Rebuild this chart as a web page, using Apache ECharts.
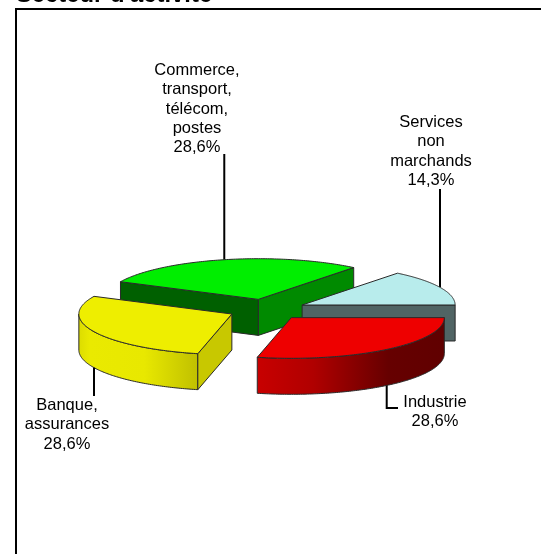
<!DOCTYPE html>
<html>
<head>
<meta charset="utf-8">
<style>html,body{margin:0;padding:0;background:#fff}#c{width:541px;height:554px}</style>
<script src="https://cdn.jsdelivr.net/npm/echarts@6/dist/echarts.min.js"></script>
</head>
<body>
<div id="c"></div>
<script>
var titleText = "Secteur d'activité";
var categories = ['Services\nnon\nmarchands', 'Commerce,\ntransport,\ntélécom,\npostes', 'Banque,\nassurances', 'Industrie'];
var shares = [14.3, 28.6, 28.6, 28.6];
var percentLabels = ['14,3%', '28,6%', '28,6%', '28,6%'];

// view of the exploded pie
var view = { cx: 267, cy: 309.5, radius: 153, tilt: 0.266, depth: 36, explode: 39 };
var drawRank = [1, 0, 2, 3];
var looks = [
  { top: '#B8ECEC', start: '#506464', end: '#506464', wall: '#506464' },
  { top: '#00EE00', start: '#008A00', end: '#006000', wall: '#006000' },
  { top: '#EEEE00', start: '#C8C800', end: '#C8C800',
    wall: [[0, '#DCDC00'], [0.1, '#EAEA00'], [0.55, '#E8E800'], [1, '#C0C000']] },
  { top: '#EE0000', start: '#A00000', end: '#C80000',
    wall: [[0, '#C80000'], [0.3, '#B00000'], [0.7, '#660000'], [1, '#600000']] }
];
var labelPlace = [
  { x: 431, y: 112.5, lineEnd: 189 },
  { x: 197, y: 60.5, lineEnd: 154 },
  { x: 67, y: 395.5, lineEnd: 396 },
  { x: 435, y: 392.5, elbow: [408, 398] }
];
var total = shares.reduce(function (a, b) { return a + b; }, 0);

function renderSlice(params, api) {
  var i = params.dataIndex;
  var before = 0;
  for (var k = 0; k < i; k++) before += shares[k];
  var a0 = before / total * Math.PI * 2;
  var a1 = a0 + api.value(0) / total * Math.PI * 2;
  var mid = (a0 + a1) / 2;
  var ox = view.cx + view.explode * Math.cos(mid);
  var oy = view.cy - view.explode * view.tilt * Math.sin(mid);
  function rim(a, dz) {
    return [ox + view.radius * Math.cos(a), oy - view.radius * view.tilt * Math.sin(a) + (dz || 0)];
  }
  var look = looks[i], base = drawRank[i] * 10, children = [];
  var edge = { stroke: '#2a2a2a', lineWidth: 1, lineJoin: 'round' };
  function add(points, fill, z) {
    children.push({ type: 'polygon', shape: { points: points }, z2: base + z,
      style: Object.assign({ fill: fill }, edge) });
  }
  function cutFace(a, fill, z) {
    add([[ox, oy], rim(a), rim(a, view.depth), [ox, oy + view.depth]], fill, z);
  }
  // outer wall: the part of the rim that faces the viewer
  var wallTop = [], wallBottom = [], steps = 120;
  for (var s = 0; s <= steps; s++) {
    var a = a0 + (a1 - a0) * s / steps;
    if (Math.sin(a) <= 0) { wallTop.push(rim(a)); wallBottom.unshift(rim(a, view.depth)); }
  }
  if (wallTop.length > 1) {
    var fill = Array.isArray(look.wall) ? {
      type: 'linear', x: 0, y: 0, x2: 1, y2: 0,
      colorStops: look.wall.map(function (c) { return { offset: c[0], color: c[1] }; })
    } : look.wall;
    add(wallTop.concat(wallBottom), fill, 1);
  }
  // cut faces, only when turned to the viewer
  if (Math.sin(a0 - Math.PI / 2) < 0) cutFace(a0, look.start, 2);
  if (Math.sin(a1 + Math.PI / 2) < 0) cutFace(a1, look.end, 3);
  // top
  var topPts = [[ox, oy]];
  for (var t = 0; t <= steps; t++) topPts.push(rim(a0 + (a1 - a0) * t / steps));
  add(topPts, look.top, 4);

  // leader + label
  var place = labelPlace[i];
  var front = Math.sin(mid) < 0;
  var anchor = rim(mid, front ? view.depth : 0);
  var linePts = place.elbow
    ? [anchor, [anchor[0], place.elbow[0]], [place.elbow[1], place.elbow[0]]]
    : [anchor, [anchor[0], place.lineEnd]];
  children.push({ type: 'polyline', shape: { points: linePts }, z2: front ? base + 5 : base - 0.5,
    style: { stroke: '#000', lineWidth: 2, fill: null } });
  children.push({ type: 'text', x: place.x, y: place.y, z2: 100,
    style: {
      text: categories[i] + '\n' + percentLabels[i],
      fill: '#000', font: '16.5px "Liberation Sans", Arial, sans-serif',
      align: 'center', verticalAlign: 'top', lineHeight: 19.4
    } });
  return { type: 'group', children: children };
}

var chart = echarts.init(document.getElementById('c'), null, { renderer: 'canvas' });
chart.setOption({
  animation: false,
  backgroundColor: '#fff',
  graphic: [
    { type: 'text', x: 16, y: 7, silent: true,
      style: { text: titleText, fill: '#000', font: 'bold 23.8px "Liberation Sans", Arial, sans-serif',
        verticalAlign: 'bottom', align: 'left' } },
    { type: 'polyline', silent: true,
      shape: { points: [[16, 554], [16, 9], [541, 9]] },
      style: { stroke: '#000', lineWidth: 2, fill: null } }
  ],
  series: [{
    type: 'custom',
    coordinateSystem: 'none',
    silent: true,
    renderItem: renderSlice,
    data: shares.map(function (v, i) { return { name: categories[i], value: [v] }; })
  }]
});
</script>
</body>
</html>
